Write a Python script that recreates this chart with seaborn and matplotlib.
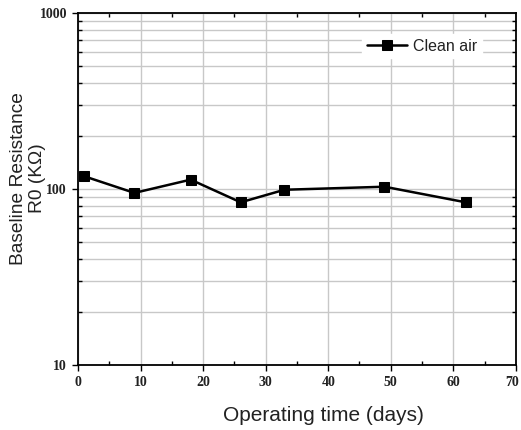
import matplotlib
matplotlib.use("Agg")
import matplotlib.pyplot as plt
import matplotlib.transforms as mtransforms
from matplotlib.ticker import LogLocator, FixedLocator, NullFormatter, FixedFormatter
import seaborn as sns
import pandas as pd

# Baseline resistance measured in clean air over the operating period
days = [1, 9, 18, 26, 33, 49, 62]
resistance_kohm = [118, 95, 113, 84, 99, 103, 84]
series_name = "Clean air"

x_ticks = [0, 10, 20, 30, 40, 50, 60, 70]
y_ticks = [10, 100, 1000]
y_tick_labels = ["10", "100", "1000"]

df = pd.DataFrame({"days": days, "R0": resistance_kohm, "series": series_name})

sns.set_theme(style="white")
plt.rcParams["font.family"] = ["Liberation Sans", "DejaVu Sans"]

fig = plt.figure(figsize=(5.21, 4.30), dpi=100)
ax = fig.add_axes([0.150, 0.151, 0.840, 0.819])

sns.lineplot(data=df, x="days", y="R0", hue="series", palette=["black"],
             marker="s", markersize=7.2, markeredgecolor="black",
             linewidth=1.8, ax=ax)

ax.set_yscale("log")
ax.set_xlim(0, 70)
ax.set_ylim(10, 1000)

ax.xaxis.set_major_locator(FixedLocator(x_ticks))
ax.xaxis.set_minor_locator(FixedLocator([5, 15, 25, 35, 45, 55, 65]))
ax.yaxis.set_major_locator(FixedLocator(y_ticks))
ax.yaxis.set_major_formatter(FixedFormatter(y_tick_labels))
ax.yaxis.set_minor_locator(LogLocator(base=10, subs=range(2, 10)))
ax.yaxis.set_minor_formatter(NullFormatter())

ax.grid(True, which="major", axis="x", color="#c8c8c8", linewidth=1.0)
ax.grid(True, which="both", axis="y", color="#c8c8c8", linewidth=1.0)
ax.set_axisbelow(True)

for side in ["left", "right", "top", "bottom"]:
    ax.spines[side].set_visible(True)
    ax.spines[side].set_color("black")
    ax.spines[side].set_linewidth(1.3)

ax.tick_params(which="major", direction="out", length=4, width=1.0,
               color="black", bottom=True, left=True, pad=4)
ax.tick_params(which="minor", direction="in", length=3, width=1.0,
               color="black", bottom=True, left=True, top=True, right=True)

for lbl in ax.get_xticklabels() + ax.get_yticklabels():
    lbl.set_fontfamily(["Liberation Serif", "DejaVu Serif"])
    lbl.set_fontweight("bold")
    lbl.set_fontsize(10)
    lbl.set_color("#222222")

# keep the last x tick label inside the canvas
last = ax.get_xticklabels()[-1]
last.set_transform(last.get_transform() +
                   mtransforms.ScaledTranslation(-4 / 100, 0, fig.dpi_scale_trans))

ax.set_xlabel("Operating time (days)", fontsize=15, color="#222222")
ax.xaxis.set_label_coords(0.561, -0.115)
ax.set_ylabel("Baseline Resistance\nR0 (KΩ)", fontsize=13.8, color="#222222",
              linespacing=1.15, va="center", ha="center")
ax.yaxis.set_label_coords(-0.114, 0.53)

leg = ax.legend(loc="upper right", bbox_to_anchor=(0.941, 0.963), frameon=True,
                fontsize=11.5, handlelength=2.5, handletextpad=0.4, borderpad=0.3)
leg.get_frame().set_edgecolor("white")
leg.get_frame().set_facecolor("white")
leg.get_frame().set_alpha(1.0)
leg.set_title(None)
for txt in leg.get_texts():
    txt.set_color("#222222")

fig.savefig("out.png", dpi=100, facecolor="white")
